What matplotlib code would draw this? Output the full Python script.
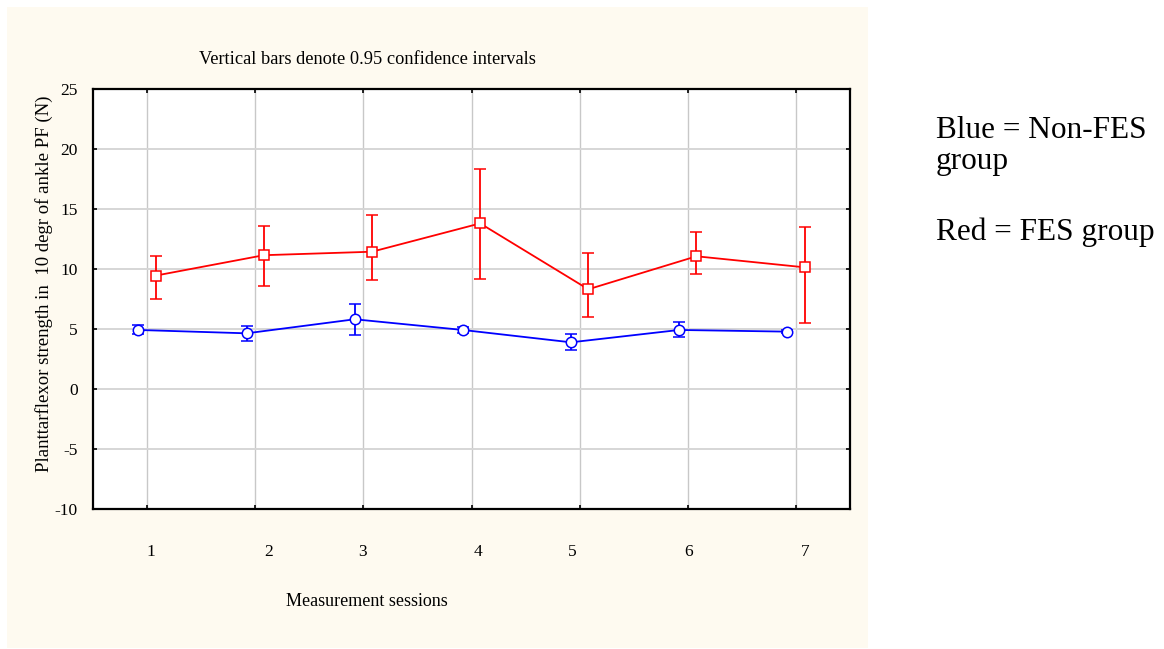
import matplotlib
matplotlib.use("Agg")
import matplotlib.pyplot as plt
import numpy as np
from matplotlib.patches import Rectangle

# ---- data ----
sessions = ["1", "2", "3", "4", "5", "6", "7"]
blue_mean = [4.92, 4.64, 5.81, 4.92, 3.89, 4.92, 4.78]
blue_low = [4.55, 4.00, 4.53, 4.70, 3.22, 4.33, 4.70]
blue_high = [5.36, 5.25, 7.08, 5.15, 4.61, 5.58, 4.88]
red_mean = [9.45, 11.15, 11.44, 13.80, 8.31, 11.06, 10.14]
red_low = [7.50, 8.60, 9.11, 9.17, 6.00, 9.60, 5.53]
red_high = [11.11, 13.58, 14.53, 18.30, 11.30, 13.10, 13.53]
yticks = [-10, -5, 0, 5, 10, 15, 20, 25]
# positions where the session labels are printed (irregular in the original)
label_pos = [0.537, 1.62, 2.49, 3.56, 4.43, 5.51, 6.59]

serif = ["Liberation Serif", "DejaVu Serif"]
plt.rcParams["font.family"] = serif

fig = plt.figure(figsize=(11.64, 6.49), dpi=100)
fig.patch.set_facecolor("white")
# cream panel
fig.patches.append(Rectangle((7/1164, 1-648/649), (868-7)/1164, (648-7)/649,
                             transform=fig.transFigure, facecolor="#FEFAF0",
                             edgecolor="none", zorder=-5))

ax = fig.add_axes([93/1164, 1-509/649, 757/1164, 420/649], zorder=2)
ax.set_facecolor("white")

n = len(sessions)
centers = np.arange(n) + 0.5
off = 0.08

bm = np.array(blue_mean); bl = np.array(blue_low); bh = np.array(blue_high)
rm = np.array(red_mean); rl = np.array(red_low); rh = np.array(red_high)

ax.errorbar(centers - off, bm, yerr=[bm - bl, bh - bm], color="#0000FF", lw=1.3,
            marker="o", ms=7.5, mfc="white", mec="#0000FF", mew=1.1,
            capsize=4.3, capthick=1.3, elinewidth=1.3, zorder=3)
ax.errorbar(centers + off, rm, yerr=[rm - rl, rh - rm], color="#FF0000", lw=1.3,
            marker="s", ms=7.5, mfc="white", mec="#FF0000", mew=1.1,
            capsize=4.3, capthick=1.3, elinewidth=1.3, zorder=3)

ax.set_xlim(0, n)
ax.set_ylim(-10, 25)
ax.set_yticks(yticks)
ax.set_yticklabels([str(v) for v in yticks], fontsize=12.5)
ax.set_xticks(centers)
ax.set_xticklabels([])
ax.set_xticks(label_pos, minor=True)
ax.set_xticklabels(sessions, minor=True, fontsize=12.5)
ax.tick_params(axis="x", which="minor", length=0, pad=25)
ax.tick_params(axis="both", which="major", direction="in", length=3, width=1.2,
               top=True, right=True)
ax.tick_params(axis="y", pad=11)

ax.grid(True, which="major", axis="x", color="#C8C8C8", lw=1.0, zorder=0)
ax.grid(True, which="major", axis="y", color="#D6D6D6", lw=1.4, zorder=0)
ax.set_axisbelow(True)
for s in ax.spines.values():
    s.set_linewidth(1.6)
    s.set_color("black")

fig.text(367/1164, 1-60/649, "Vertical bars denote 0.95 confidence intervals",
         ha="center", va="center", fontsize=13.2)
fig.text(367/1164, 1-602/649, "Measurement sessions", ha="center", va="center",
         fontsize=13)
fig.text(44/1164, 1-284/649, "Planttarflexor strength in  10 degr of ankle PF (N)",
         ha="center", va="center", rotation=90, fontsize=13.5)

fig.text(936/1164, 1-131/649, "Blue = Non-FES", ha="left", va="center", fontsize=22.5)
fig.text(936/1164, 1-162/649, "group", ha="left", va="center", fontsize=22.5)
fig.text(936/1164, 1-232/649, "Red = FES group", ha="left", va="center", fontsize=22.5)

fig.savefig("out.png", dpi=100)
